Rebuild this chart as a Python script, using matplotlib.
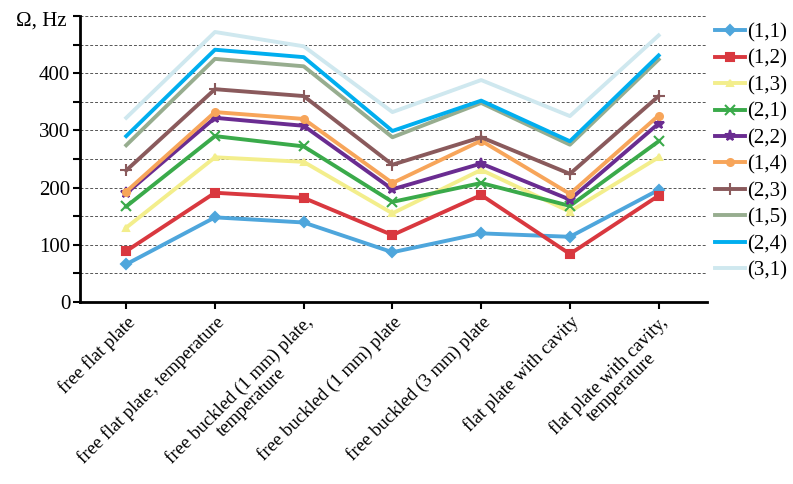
import matplotlib
matplotlib.use("Agg")
import matplotlib.pyplot as plt

plt.rcParams.update({
    "font.family": "Liberation Serif",
})

cases = [
    "free flat plate",
    "free flat plate, temperature",
    "free buckled (1 mm) plate,\ntemperature",
    "free buckled (1 mm) plate",
    "free buckled (3 mm) plate",
    "flat plate with cavity",
    "flat plate with cavity,\ntemperature",
]

modes = ["(1,1)", "(1,2)", "(1,3)", "(2,1)", "(2,2)", "(1,4)", "(2,3)", "(1,5)", "(2,4)", "(3,1)"]

f11 = [66, 148, 139, 87, 120, 114, 196]
f12 = [89, 191, 182, 117, 187, 84, 186]
f13 = [130, 253, 245, 155, 231, 158, 253]
f21 = [167, 290, 272, 175, 208, 168, 281]
f22 = [190, 322, 308, 197, 242, 179, 312]
f14 = [193, 332, 320, 208, 282, 189, 326]
f23 = [230, 372, 360, 240, 288, 224, 360]
f15 = [274, 425, 412, 288, 348, 275, 424]
f24 = [290, 441, 428, 299, 352, 281, 431]
f31 = [322, 472, 447, 332, 388, 325, 466]

series = [f11, f12, f13, f21, f22, f14, f23, f15, f24, f31]

colors = ["#4ea6dc", "#d9383f", "#f3ee8c", "#3aaa4a", "#6a2c91",
          "#f7a55a", "#8a5a5c", "#97ad8f", "#00aeef", "#cfe8ef"]
markers = ["D", "s", "^", "x", "*", "o", "+", None, None, None]
msizes = [5, 6, 5, 7, 8, 5, 9, 0, 0, 0]

fig = plt.figure(figsize=(7.93, 4.84), dpi=100)
ax = fig.add_axes([0.101, 0.376, 0.79, 0.591])

x = list(range(len(cases)))
for vals, lab, c, m, ms in zip(series, modes, colors, markers, msizes):
    ax.plot(x, vals, color=c, lw=2.8, marker=m, markersize=ms,
            markeredgewidth=1.5, label=lab)

ax.set_ylim(0, 500)
ax.set_xlim(-0.52, 6.54)
ax.set_yticks(range(0, 501, 50))
ax.set_yticklabels([str(v) if v % 100 == 0 and v < 500 else "" for v in range(0, 501, 50)])
ax.set_xticks(x)
ax.set_xticklabels(cases, rotation=45, ha="right", rotation_mode="anchor",
                   multialignment="center", fontsize=13.5, linespacing=1.0)
ax.tick_params(axis="y", labelsize=15, length=5, width=1.5, pad=2)
ax.tick_params(axis="x", length=5, width=1.5, pad=3)

ax.grid(axis="y", linestyle=(0, (3, 2)), color="#555555", lw=0.7)
ax.set_axisbelow(True)
for s in ["top", "right"]:
    ax.spines[s].set_visible(False)
for s in ["left", "bottom"]:
    ax.spines[s].set_linewidth(2)

fig.text(67 / 793, 1 - 21 / 484, "Ω, Hz", fontsize=15, ha="right", va="center")

ax.legend(loc="upper left", bbox_to_anchor=(1.0, 1.005), frameon=False,
          fontsize=15, numpoints=1, handlelength=1.45, handletextpad=0.1,
          labelspacing=0.33, borderaxespad=0.2, borderpad=0.2)

fig.savefig("out.png", dpi=100)
